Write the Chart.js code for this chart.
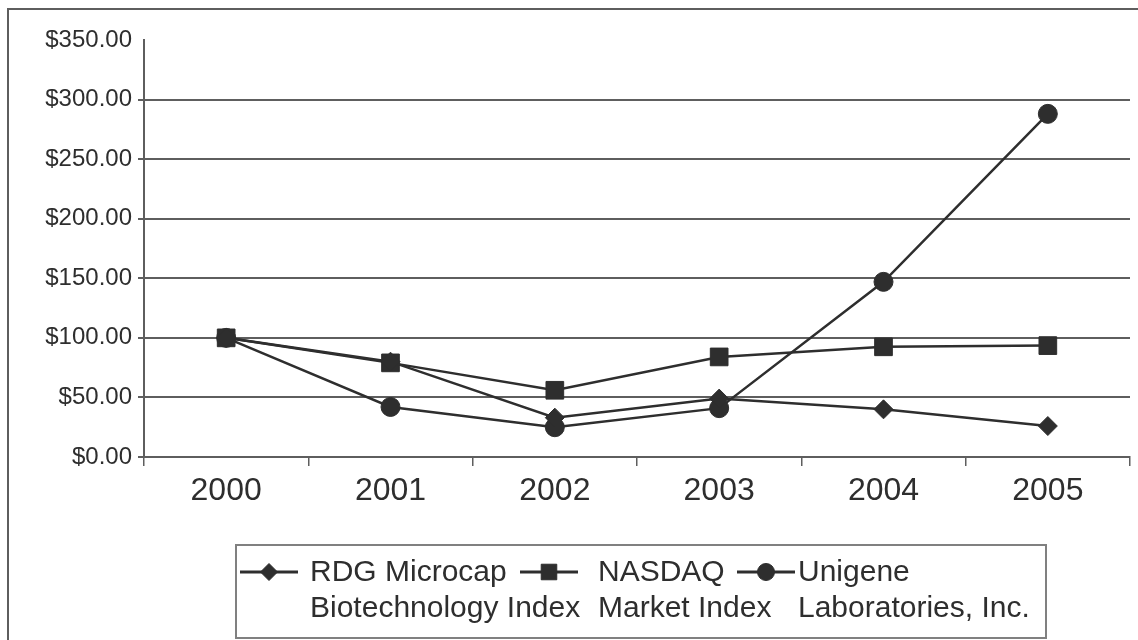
<!DOCTYPE html>
<html>
<head>
<meta charset="utf-8">
<script src="https://cdn.jsdelivr.net/npm/chart.js@4.4.1/dist/chart.umd.min.js"></script>
<style>
  html, body { margin: 0; padding: 0; background: #fff; }
  #wrap { width: 1138px; height: 640px; position: relative; }
</style>
</head>
<body>
<div id="wrap"><canvas id="chart" width="1138" height="640"></canvas></div>
<script>
'use strict';

// data
const years = ['2000', '2001', '2002', '2003', '2004', '2005'];
const rdgValues = [100, 80, 33, 49, 40, 26];
const nasdaqValues = [100, 79, 56, 84, 92.5, 93.5];
const unigeneValues = [100, 42, 25, 41, 147, 288];

const rdgLegend = ['RDG Microcap', 'Biotechnology Index'];
const nasdaqLegend = ['NASDAQ', 'Market Index'];
const unigeneLegend = ['Unigene', 'Laboratories, Inc.'];

const INK = '#2e2e2e';
const GRID = '#5e5e5e';
const FONT = "'Liberation Sans', Arial, Helvetica, sans-serif";

function series(label, data, pointStyle, radius) {
    return {
        label,
        data,
        borderColor: INK,
        borderWidth: 2.5,
        backgroundColor: INK,
        pointStyle,
        pointRadius: radius,
        pointBackgroundColor: INK,
        pointBorderColor: INK,
        pointBorderWidth: 1,
        tension: 0,
        fill: false
    };
}

// outer frame (left + top edge only, as in the scan)
const framePlugin = {
    id: 'frame',
    afterDraw(chart) {
        const ctx = chart.ctx;
        ctx.save();
        ctx.strokeStyle = GRID;
        ctx.lineWidth = 2;
        ctx.beginPath();
        ctx.moveTo(8, 640);
        ctx.lineTo(8, 9);
        ctx.lineTo(1138, 9);
        ctx.stroke();
        ctx.restore();
    }
};

// boxed legend with two-line labels
const boxLegendPlugin = {
    id: 'boxLegend',
    afterDraw(chart) {
        const ctx = chart.ctx;
        const items = [
            { ds: chart.data.datasets[0], lines: rdgLegend, x: 240, tx: 310 },
            { ds: chart.data.datasets[1], lines: nasdaqLegend, x: 520, tx: 598 },
            { ds: chart.data.datasets[2], lines: unigeneLegend, x: 737, tx: 798 }
        ];
        ctx.save();
        ctx.strokeStyle = '#808080';
        ctx.lineWidth = 2;
        ctx.strokeRect(236, 545, 810, 93);

        ctx.font = '30px ' + FONT;
        ctx.textBaseline = 'middle';
        for (const it of items) {
            const y = 572;
            ctx.strokeStyle = INK;
            ctx.lineWidth = 3;
            ctx.beginPath();
            ctx.moveTo(it.x, y);
            ctx.lineTo(it.x + 58, y);
            ctx.stroke();
            ctx.fillStyle = INK;
            ctx.lineWidth = 1;
            Chart.helpers.drawPoint(ctx, {
                pointStyle: it.ds.pointStyle,
                radius: it.ds.pointStyle === 'rect' ? 11 : 8.5,
                rotation: 0,
                borderWidth: 1
            }, it.x + 29, y);
            it.lines.forEach((line, i) => {
                ctx.fillText(line, it.tx, y + 1 + i * 36);
            });
        }
        ctx.restore();
    }
};

new Chart(document.getElementById('chart').getContext('2d'), {
    type: 'line',
    data: {
        labels: years,
        datasets: [
            series('RDG Microcap Biotechnology Index', rdgValues, 'rectRot', 9.5),
            series('NASDAQ Market Index', nasdaqValues, 'rect', 12.5),
            series('Unigene Laboratories, Inc.', unigeneValues, 'circle', 9.5)
        ]
    },
    options: {
        responsive: false,
        animation: false,
        devicePixelRatio: 1,
        layout: {
            autoPadding: false,
            padding: { top: 40, right: 8, bottom: 123, left: 0 }
        },
        plugins: {
            legend: { display: false },
            tooltip: { enabled: false }
        },
        scales: {
            x: {
                offset: true,
                grid: {
                    offset: true,
                    drawOnChartArea: false,
                    tickLength: 9,
                    color: GRID,
                    lineWidth: 1.5
                },
                border: { color: GRID, width: 2 },
                ticks: {
                    color: INK,
                    font: { family: FONT, size: 32 },
                    padding: 6,
                    maxRotation: 0
                },
                afterFit: s => {
                    s.height = 60;
                    s.paddingRight = 0;
                    s.paddingLeft = 0;
                }
            },
            y: {
                min: 0,
                max: 350,
                grid: {
                    color: c => (c.tick && c.tick.value === 350 ? 'rgba(0,0,0,0)' : GRID),
                    lineWidth: 2,
                    tickLength: 6
                },
                border: { color: GRID, width: 2 },
                ticks: {
                    stepSize: 50,
                    color: INK,
                    font: { family: FONT, size: 24 },
                    padding: 6,
                    callback: v => '$' + Number(v).toFixed(2)
                },
                afterFit: s => { s.width = 144; }
            }
        }
    },
    plugins: [framePlugin, boxLegendPlugin]
});
</script>
</body>
</html>
